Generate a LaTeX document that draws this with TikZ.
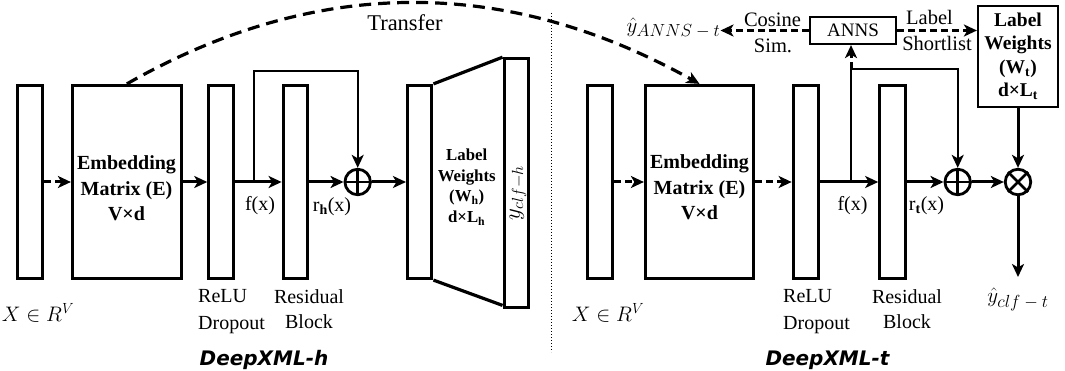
\RequirePackage{fix-cm}
\documentclass[tikz,border=0pt]{standalone}
\usepackage{fontspec}
\setmainfont{Liberation Serif}
\newfontfamily\dxfont{DejaVu Sans}
\usetikzlibrary{arrows.meta,calc}
\newcommand\fs[1]{\fontsize{#1}{#1}\selectfont}
\newcommand\sbs[1]{\mbox{\fs{17.5}$#1$}}
\begin{document}
\begin{tikzpicture}[x=1pt,y=-1pt,
  box/.style={draw, line width=3.2pt, inner sep=0pt, minimum height=193pt},
  tbox/.style={draw, line width=2.2pt, inner sep=0pt},
  circ/.style={draw, circle, line width=2.8pt, minimum size=25.5pt, inner sep=0pt},
  tip/.style={-{Stealth[length=13pt,width=12pt,inset=3.5pt]}},
  arr/.style={tip, line width=3pt},
  darr/.style={arr, dash pattern=on 7pt off 4pt},
  sarr/.style={tip, line width=2.3pt},
  trarr/.style={-{Stealth[length=13pt,width=12pt,inset=3.5pt]}, line width=3.2pt, dash pattern=on 12pt off 7pt},
  txt/.style={inner sep=0pt, font=\fs{20}},
  bold/.style={inner sep=0pt, align=center},
  dx/.style={inner sep=0pt, font=\dxfont\bfseries\itshape\fs{20}}
]
\useasboundingbox (0,0) rectangle (1065,371);

% ---------- DeepXML-h ----------
\node[box, minimum width=25.3pt] (inh) at (29.85,182) {};
\node[box, minimum width=108.7pt] (embh) at (126.85,182) {};
\node[box, minimum width=24.7pt] (reluh) at (221.2,182) {};
\node[box, minimum width=24.6pt] (resh) at (295.5,182) {};
\node[circ] (plush) at (357.7,182) {};
\node[box, minimum width=24.3pt] (lblh) at (419.7,182) {};
\node[box, minimum width=24.3pt, minimum height=249pt] (outh) at (516.3,183.3) {};

\node[bold, font=\bfseries\fontsize{20}{25.5}\selectfont] (embhtxt) at (126.5,188.5) {Embedding\\Matrix (E)\\V×d};
\node[bold, font=\bfseries\fontsize{16.8}{20.7}\selectfont] (lblhtxt) at (466.7,187) {Label\\Weights\\(W\textsubscript{h})\\d×L\textsubscript{h}};
\node[inner sep=0pt, rotate=90, font=\fs{23}] (yclfh) at (518,193) {$y_{clf-h}$};

\draw[line width=3.2pt] (lblh.north east) -- (outh.north west);
\draw[line width=3.2pt] (lblh.south east) -- ($(outh.south west)+(0,-4)$);

\draw[line width=2.8pt] (plush.north) -- (plush.south) (plush.west) -- (plush.east);

\draw[darr] (inh.east) -- (embh.west);
\draw[arr] (embh.east) -- (reluh.west);
\draw[arr] (reluh.east) -- (resh.west);
\draw[arr] (resh.east) -- (plush.west);
\draw[arr] (plush.east) -- (lblh.west);
\coordinate (brh) at (254,182);
\coordinate (toph) at (254,70.7);
\draw[sarr] (brh) -- (toph) -| (plush.north);

\node[txt] (fxh) at (260,206) {f(x)};
\node[txt] (rhx) at (332,207) {r\textsubscript{\textbf{h}}(x)};
\node[inner sep=0pt, font=\fs{21}] (xh) at (38,313) {$X\in R^V$};
\node[txt, align=left, anchor=west, font=\fontsize{20}{26.5}\selectfont] (reluhtxt) at (198,311.5) {ReLU\\Dropout};
\node[txt, align=center, font=\fontsize{20}{25}\selectfont] (reshtxt) at (309,309.5) {Residual\\Block};
\node[dx] (dxh) at (264,360) {DeepXML-h};

% ---------- divider ----------
\coordinate (dvtop) at (551,13);
\coordinate (dvbot) at (551,352);
\draw[line width=1pt, dash pattern=on 1pt off 2pt] (dvtop) -- (dvbot);

% ---------- DeepXML-t ----------
\node[box, minimum width=25.3pt] (int) at (599.85,182) {};
\node[box, minimum width=108pt] (embt) at (699.5,182) {};
\node[box, minimum width=25.3pt] (relut) at (805.9,182) {};
\node[box, minimum width=25.4pt] (rest) at (892.5,182) {};
\node[circ] (plust) at (957.7,182) {};
\node[circ] (timest) at (1018,182) {};
\node[tbox, minimum width=86pt, minimum height=27pt, font=\fs{19}] (anns) at (853,30.5) {ANNS};
\node[tbox, minimum width=80pt, minimum height=101pt, align=center, font=\bfseries\fontsize{19.5}{23.5}\selectfont] (lwt) at (1018,56.5) {Label\\Weights\\(W\textsubscript{t})\\d×L\textsubscript{t}};

\node[bold, font=\bfseries\fontsize{20}{25.5}\selectfont] (embttxt) at (699.5,187.5) {Embedding\\Matrix (E)\\V×d};

\draw[line width=2.8pt] (plust.north) -- (plust.south) (plust.west) -- (plust.east);
\draw[line width=2.8pt] (timest.north west) -- (timest.south east) (timest.north east) -- (timest.south west);

\node[inner sep=0pt, font=\fs{21}] (yanns) at (673.5,28) {$\hat{y}_{\sbs{ANNS-t}}$};
\node[inner sep=0pt, font=\fs{21}] (yclft) at (1018,299) {$\hat{y}_{\sbs{clf-t}}$};
\coordinate (yend) at (1018,277);

\draw[darr] (int.east) -- (embt.west);
\draw[darr] (embt.east) -- (relut.west);
\draw[arr] (relut.east) -- (rest.west);
\draw[arr] (rest.east) -- (plust.west);
\draw[arr] (plust.east) -- (timest.west);
\draw[arr] (lwt.south) -- (timest.north);
\draw[arr] (timest.south) -- (yend);
\coordinate (brt) at (851,182);
\coordinate (topt) at (851,69);
\draw[sarr] (brt) -- (topt) -| (plust.north);
\draw[darr] (topt) -- (topt |- anns.south);
\draw[darr] (anns.west) -- (anns.west -| yanns.east);
\draw[darr] (anns.east) -- (anns.east -| lwt.west);

\node[txt, font=\fs{20.5}] (cos) at (772.5,20) {Cosine};
\node[txt, font=\fs{20.5}] (sim) at (773,46) {Sim.};
\node[txt, font=\fs{20.5}] (lbl) at (929.5,17) {Label};
\node[txt, font=\fs{20.5}] (sl) at (937,43) {Shortlist};

\node[txt] (fxt) at (852.5,206) {f(x)};
\node[txt] (rtx) at (926.5,206) {r\textsubscript{\textbf{t}}(x)};
\node[inner sep=0pt, font=\fs{21}] (xt) at (608,313) {$X\in R^V$};
\node[txt, align=left, anchor=west, font=\fontsize{20}{26.5}\selectfont] (reluttxt) at (783,311.5) {ReLU\\Dropout};
\node[txt, align=center, font=\fontsize{20}{25}\selectfont] (resttxt) at (907,309.5) {Residual\\Block};
\node[dx] (dxt) at (827.5,360) {DeepXML-t};

% ---------- Transfer ----------
\draw[trarr] (embh.north) .. controls (316,-24) and (506,-24) .. (embt.north);
\node[txt, font=\fs{22.5}] (transfer) at (405,23) {Transfer};
\end{tikzpicture}
\end{document}
